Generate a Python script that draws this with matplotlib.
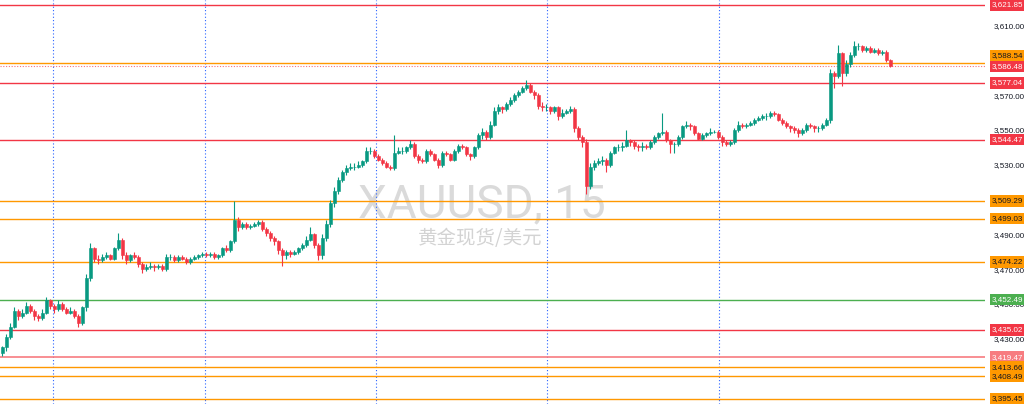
import matplotlib.pyplot as plt
import matplotlib.transforms as mtransforms
import numpy as np

# 15-minute candles (open = previous close)
first_open = 3422
closes = [3425, 3431, 3437, 3446, 3443, 3445, 3449, 3446, 3443, 3442,
          3445, 3452, 3449, 3447, 3450, 3447, 3445, 3446, 3443, 3439,
          3448, 3465, 3482, 3476, 3475, 3477, 3478, 3476, 3482, 3487,
          3478, 3475, 3478, 3477, 3473, 3470, 3471, 3472, 3471, 3472,
          3470, 3477, 3477, 3475, 3477, 3476, 3474, 3476, 3477, 3478,
          3479, 3478, 3479, 3477, 3478, 3482, 3481, 3486, 3498, 3494,
          3496, 3494, 3495, 3496, 3497, 3493, 3491, 3488, 3486, 3481,
          3478, 3480, 3479, 3480, 3482, 3484, 3487, 3490, 3484, 3478,
          3488, 3496, 3508, 3515, 3521, 3526, 3528, 3529, 3529, 3530,
          3532, 3538, 3538, 3535, 3533, 3531, 3529, 3528, 3537, 3538,
          3538, 3540, 3542, 3535, 3533, 3532, 3538, 3536, 3533, 3530,
          3537, 3536, 3533, 3538, 3541, 3540, 3536, 3535, 3540, 3547,
          3549, 3546, 3553, 3561, 3563, 3562, 3565, 3567, 3570, 3572,
          3574, 3576, 3572, 3570, 3564, 3563, 3563, 3561, 3563, 3558,
          3560, 3561, 3562, 3551, 3546, 3543, 3518, 3529, 3531, 3532,
          3533, 3530, 3537, 3540, 3540, 3541, 3544, 3543, 3541, 3540,
          3541, 3540, 3543, 3546, 3548, 3549, 3544, 3542, 3542, 3546,
          3552, 3553, 3552, 3548, 3545, 3547, 3548, 3549, 3549, 3546,
          3543, 3542, 3543, 3550, 3553, 3552, 3553, 3554, 3556, 3557,
          3558, 3558, 3560, 3559, 3556, 3554, 3552, 3551, 3550, 3548,
          3550, 3553, 3552, 3551, 3551, 3553, 3556, 3583, 3581, 3594,
          3583, 3588, 3593, 3598, 3598, 3596, 3597, 3595, 3596, 3594,
          3595, 3590, 3587]
highs = [3426, 3433, 3439, 3448, 3447, 3447, 3451, 3450, 3447, 3444,
         3447, 3454, 3453, 3450, 3452, 3451, 3448, 3448, 3447, 3444,
         3449, 3467, 3485, 3483, 3478, 3479, 3480, 3479, 3483, 3491,
         3488, 3480, 3479, 3480, 3478, 3474, 3473, 3474, 3473, 3473,
         3473, 3479, 3479, 3478, 3478, 3478, 3477, 3477, 3478, 3479,
         3480, 3480, 3480, 3480, 3479, 3483, 3484, 3487, 3509, 3500,
         3497, 3497, 3496, 3497, 3498, 3498, 3494, 3492, 3489, 3487,
         3482, 3481, 3481, 3481, 3483, 3485, 3489, 3494, 3491, 3485,
         3490, 3498, 3510, 3517, 3523, 3527, 3530, 3531, 3531, 3532,
         3533, 3540, 3540, 3539, 3536, 3534, 3532, 3530, 3547, 3540,
         3540, 3541, 3544, 3543, 3536, 3534, 3539, 3539, 3537, 3534,
         3538, 3538, 3537, 3539, 3542, 3542, 3541, 3537, 3541, 3548,
         3551, 3550, 3555, 3563, 3565, 3564, 3566, 3569, 3571, 3573,
         3575, 3579, 3577, 3573, 3571, 3566, 3565, 3564, 3564, 3564,
         3562, 3562, 3564, 3563, 3552, 3547, 3545, 3531, 3533, 3534,
         3535, 3534, 3538, 3541, 3542, 3543, 3550, 3545, 3544, 3542,
         3543, 3542, 3544, 3547, 3549, 3560, 3550, 3545, 3543, 3547,
         3553, 3555, 3554, 3553, 3549, 3548, 3549, 3551, 3550, 3550,
         3547, 3544, 3544, 3551, 3555, 3554, 3554, 3555, 3557, 3558,
         3559, 3560, 3561, 3561, 3560, 3557, 3555, 3553, 3552, 3551,
         3551, 3554, 3554, 3553, 3552, 3554, 3557, 3585, 3584, 3599,
         3595, 3590, 3595, 3601, 3600, 3599, 3598, 3598, 3597, 3597,
         3596, 3596, 3591]
lows = [3420, 3423, 3430, 3436, 3441, 3442, 3444, 3445, 3441, 3440,
        3441, 3444, 3447, 3445, 3446, 3446, 3444, 3444, 3442, 3437,
        3438, 3446, 3463, 3474, 3473, 3474, 3476, 3475, 3475, 3481,
        3476, 3473, 3474, 3476, 3471, 3468, 3469, 3470, 3469, 3470,
        3469, 3469, 3475, 3474, 3474, 3475, 3473, 3473, 3475, 3476,
        3477, 3477, 3477, 3476, 3476, 3477, 3480, 3480, 3485, 3492,
        3493, 3493, 3493, 3494, 3495, 3492, 3489, 3486, 3484, 3479,
        3472, 3476, 3477, 3478, 3479, 3481, 3483, 3486, 3482, 3475,
        3476, 3486, 3494, 3506, 3513, 3520, 3524, 3527, 3527, 3528,
        3529, 3531, 3536, 3534, 3532, 3530, 3528, 3527, 3527, 3536,
        3536, 3537, 3539, 3534, 3531, 3531, 3531, 3535, 3532, 3528,
        3529, 3535, 3532, 3532, 3537, 3539, 3535, 3533, 3534, 3539,
        3545, 3544, 3545, 3552, 3559, 3560, 3561, 3564, 3566, 3569,
        3571, 3573, 3571, 3568, 3562, 3561, 3561, 3559, 3560, 3556,
        3557, 3559, 3560, 3549, 3544, 3540, 3513, 3516, 3527, 3530,
        3530, 3526, 3529, 3536, 3538, 3538, 3540, 3541, 3539, 3538,
        3538, 3539, 3539, 3542, 3545, 3547, 3543, 3537, 3537, 3541,
        3545, 3551, 3550, 3547, 3544, 3544, 3546, 3547, 3548, 3545,
        3541, 3541, 3541, 3542, 3549, 3551, 3551, 3552, 3553, 3555,
        3556, 3556, 3557, 3558, 3555, 3553, 3551, 3549, 3548, 3546,
        3547, 3549, 3551, 3549, 3549, 3550, 3552, 3554, 3574, 3580,
        3575, 3581, 3586, 3592, 3596, 3595, 3595, 3594, 3594, 3593,
        3593, 3589, 3586]

levels = [3621.85, 3588.54, 3577.04, 3544.47, 3509.29, 3499.03, 3474.22,
          3452.49, 3435.02, 3419.47, 3413.66, 3408.49, 3395.45]
level_kinds = ['red', 'orange', 'red', 'red', 'orange', 'orange', 'orange',
               'green', 'red', 'pink', 'orange', 'orange', 'orange']
last_price = 3586.48
day_breaks = [12.6, 50.6, 93.3, 136.1, 179.1]
price_ticks = [3410, 3430, 3450, 3470, 3490, 3510, 3530, 3550, 3570, 3590, 3610]

up_col = '#089981'
down_col = '#F23645'
kind_col = {'red': '#F23645', 'orange': '#FF9800', 'green': '#4CAF50', 'pink': '#F77C80'}
kind_txt = {'red': 'white', 'orange': '#131722', 'green': 'white', 'pink': 'white'}
scale_font = 'Liberation Sans'
scale_size = 5.8

opens = np.array([first_open] + closes[:-1], dtype=float)
closes = np.array(closes, dtype=float)
x = np.arange(len(closes))
cols = np.where(closes >= opens, up_col, down_col)

fig = plt.figure(figsize=(10.24, 4.04), dpi=100)
ax = fig.add_axes([0, 0, 985 / 1024, 1])

# watermark
ax.text(0.489, 0.493, 'XAUUSD, 15', transform=ax.transAxes, ha='center', va='center',
        fontsize=33, color='#dadada', family='Roboto', zorder=0)
ax.text(0.487, 0.41, '黄金现货/美元', transform=ax.transAxes, ha='center', va='center',
        fontsize=14, color='#d3d3d3', family=['Noto Sans CJK SC', 'DejaVu Sans'], zorder=0)

for d in day_breaks:
    ax.axvline(d, color='#2962FF', lw=0.8, ls=(0, (1, 2)), zorder=1)

for v, k in zip(levels, level_kinds):
    ax.axhline(v, color=kind_col[k], lw=1.2 if k == 'pink' else 1, zorder=2)
ax.axhline(last_price, color=down_col, lw=0.8, ls=(0, (1, 1.5)), alpha=0.7, zorder=2)

ax.vlines(x, lows, highs, color=cols, lw=0.8, zorder=3)
ax.bar(x, closes - opens, bottom=opens, width=0.6, color=cols, edgecolor=cols,
       linewidth=0.4, zorder=4)

ax.set_xlim(-0.6, 245.65)
ax.set_ylim(3392.5, 3624.7)

ax.yaxis.tick_right()
ax.set_yticks(price_ticks)
ax.set_yticklabels([f'{t:,.2f}' for t in price_ticks])
ax.tick_params(axis='y', length=0, pad=6, labelsize=scale_size, labelcolor='#131722')
for t in ax.get_yticklabels():
    t.set_family(scale_font)
ax.set_xticks([])
for s in ax.spines.values():
    s.set_visible(False)

# price-scale labels; the 3588.54 tag sits just above the last-price tag
trans = mtransforms.blended_transform_factory(ax.transAxes, ax.transData)
labels = list(zip(levels, level_kinds)) + [(last_price, 'red')]
for v, k in labels:
    dy = 5.5 if v == 3588.54 else 0
    ax.annotate(f'{v:,.2f}', xy=(1.0, v), xycoords=trans, xytext=(5.0, dy),
                textcoords='offset points', ha='left', va='center',
                fontsize=scale_size, family=scale_font, color=kind_txt[k],
                annotation_clip=False, zorder=10 if k == 'red' else 9,
                bbox=dict(boxstyle='square,pad=0.28', fc=kind_col[k], ec='none'))

fig.savefig('out.png', dpi=100)
